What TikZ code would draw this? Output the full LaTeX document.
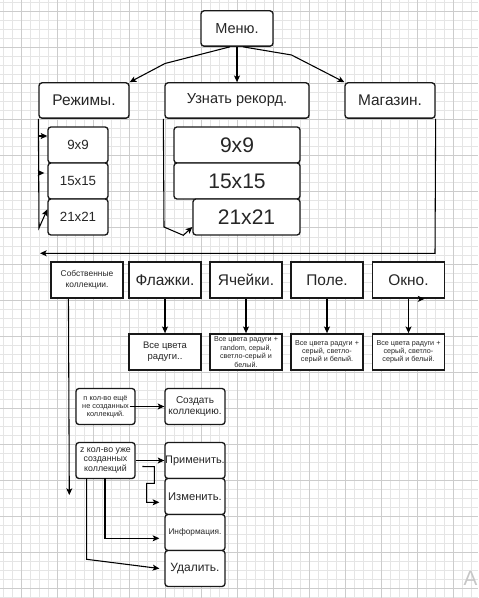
\documentclass[tikz,border=0pt]{standalone}
\usepackage{fontspec}
\setmainfont{Liberation Sans}
\usetikzlibrary{arrows.meta,calc}

\newcommand\fs[2]{\fontsize{#1}{#2}\selectfont}

\tikzset{
  gridminor/.style={draw=black!10, line width=0.75pt},
  gridmajor/.style={draw=black!20, line width=0.75pt},
  rbox/.style={draw=black!90, line width=1pt, rounded corners=2.25pt, fill=white,
    inner sep=0pt, align=center, text=black!85},
  sbox/.style={draw=black!90, line width=1.3pt, fill=white,
    inner sep=0pt, align=center, text=black!85},
  link/.style={draw=black, line width=0.8pt,
    -{Stealth[length=5pt,width=4.5pt,inset=1.2pt]}},
}

\begin{document}
\begin{tikzpicture}[x=0.75pt,y=-0.75pt]
  \useasboundingbox (0,0) rectangle (478,598);
  \fill[white] (0,0) rectangle (478,598);

  % background grid
  \foreach \i in {0,...,52} \draw[gridminor] ({3+9*\i},0) -- ({3+9*\i},598);
  \foreach \i in {0,...,66} \draw[gridminor] (0,{3+9*\i}) -- (478,{3+9*\i});
  \foreach \i in {0,...,12} \draw[gridmajor] ({21+36*\i},0) -- ({21+36*\i},598);
  \foreach \i in {0,...,16} \draw[gridmajor] (0,{12+36*\i}) -- (478,{12+36*\i});

  % main menu
  \node[rbox, minimum width=54pt, minimum height=26.5pt, font=\fs{10.9}{13}] (menu) at (237,28.5) {Меню.};
  \node[rbox, minimum width=67.5pt, minimum height=26.5pt, font=\fs{11.6}{14}] (modes) at (84,100.5) {Режимы.};
  \node[rbox, minimum width=108pt, minimum height=26.5pt, font=\fs{10.9}{13}] (record) at (237,100.5) {Узнать рекорд.};
  \node[rbox, minimum width=67.5pt, minimum height=26.5pt, font=\fs{11.6}{14}] (shop) at (390,100.5) {Магазин.};

  % game modes
  \node[rbox, minimum width=45pt, minimum height=27pt, font=\fs{10}{12}] (s9) at (78,145) {9x9};
  \node[rbox, minimum width=45pt, minimum height=27pt, font=\fs{10}{12}] (s15) at (78,181) {15x15};
  \node[rbox, minimum width=45pt, minimum height=27pt, font=\fs{10}{12}] (s21) at (78,217) {21x21};

  % records
  \node[rbox, minimum width=94.5pt, minimum height=27pt, font=\fs{15.8}{18}] (b9) at (237,145) {9x9};
  \node[rbox, minimum width=94.5pt, minimum height=27pt, font=\fs{15.8}{18}] (b15) at (237,181) {15x15};
  \node[rbox, minimum width=80.25pt, minimum height=27pt, font=\fs{15.8}{18}] (b21) at (246.5,217) {21x21};

  % shop sections
  \node[sbox, minimum width=54pt, minimum height=27pt, font=\fs{6.3}{8}] (own) at (87,280) {Собственные\\коллекции.};
  \node[sbox, minimum width=54pt, minimum height=27pt, font=\fs{11.6}{14}] (flags) at (165,280) {Флажки.};
  \node[sbox, minimum width=54pt, minimum height=27pt, font=\fs{11.6}{14}] (cells) at (246,280) {Ячейки.};
  \node[sbox, minimum width=54pt, minimum height=27pt, font=\fs{11.6}{14}] (field) at (327,280) {Поле.};
  \node[sbox, minimum width=54pt, minimum height=27pt, font=\fs{11.6}{14}] (window) at (408.5,280) {Окно.};

  % colour sets
  \node[sbox, minimum width=54pt, minimum height=27pt, font=\fs{7.1}{8.3}] (c1) at (165,352) {Все цвета\\радуги..};
  \node[sbox, minimum width=54pt, minimum height=27pt, font=\fs{5.4}{6.5}] (c2) at (246,352) {Все цвета радуги +\\random, серый,\\светло-серый и\\белый.};
  \node[sbox, minimum width=54pt, minimum height=27pt, font=\fs{5.4}{6.2}] (c3) at (327,352) {Все цвета радуги +\\серый, светло-\\серый и белый.};
  \node[sbox, minimum width=54pt, minimum height=27pt, font=\fs{5.4}{6.2}] (c4) at (408.5,352) {Все цвета радуги +\\серый, светло-\\серый и белый.};

  % own collections
  \node[rbox, minimum width=44.25pt, minimum height=27pt, font=\fs{5.5}{6.2}] (nnot) at (105.5,406.5) {n кол-во ещё\\не созданных\\коллекций.};
  \node[rbox, minimum width=45pt, minimum height=27pt, font=\fs{7.5}{8}] (create) at (195,406.5) {Создать\\коллекцию.};
  \node[rbox, minimum width=44.25pt, minimum height=27pt, font=\fs{6.6}{7.3}] (zc) at (105.5,460.5) {z кол-во уже\\созданных\\коллекций};
  \node[rbox, minimum width=45pt, minimum height=27pt, font=\fs{8.2}{10}] (apply) at (195,460.5) {Применить.};
  \node[rbox, minimum width=45pt, minimum height=27pt, font=\fs{8.4}{10}] (edit) at (195,496.5) {Изменить.};
  \node[rbox, minimum width=45pt, minimum height=27pt, font=\fs{6.2}{8}] (info) at (195,532.5) {Информация.};
  \node[rbox, minimum width=45pt, minimum height=27pt, font=\fs{9}{11}] (del) at (195,568.5) {Удалить.};

  \node[text=black!22, font=\fs{15.5}{18}] (mark) at (470.5,578) {A};

  % menu branches
  \draw[link] ($(menu.south)+(-7,0)$) -- (165,63.5) -- (modes.north east);
  \draw[link] (menu.south) -- (record.north);
  \draw[link] ($(menu.south)+(6,0)$) -- (291.5,55) -- (shop.north west);

  % modes column
  \draw[link] (modes.south west) -- (39,228) -- ($(s21.north west)+(0,11)$);
  \draw[link] (39,136) -- ($(s9.west)+(0,-9)$);
  \draw[link] (39,173) -- ($(s15.west)+(-3,-8)$);

  % records column
  \draw[link] ($(record.south west)+(-1,0)$) -- (164,227) -- (183.3,235.3) -- ($(b21.west)+(0,10)$);

  % shop loop
  \coordinate (loopend) at (40,253.3);
  \draw[link] (shop.south east) -- (435,253.3) -- (loopend);
  \draw[link] ($(window.south)+(10,0)$) -- ($(window.south)+(16,0)$);

  % sections to colour sets
  \draw[link] (flags.south) -- (c1.north);
  \draw[link] (cells.south) -- (c2.north);
  \draw[link] (field.south) -- (c3.north);
  \draw[link] (window.south) -- (c4.north);

  % own collections
  \coordinate (ownend) at (69.3,495);
  \draw[link] ($(own.south west)+(18.3,0)$) -- (ownend);
  \draw[link] ($(nnot.east)+(-6,0)$) -- (create.west);
  \draw[link] (zc.east) -- (apply.west);
  \draw[link] ($(zc.east)+(6.7,6)$) -- (154.3,466.7) -- (154.3,483.3) -- (146.7,483.3) -- (146.7,502.3) -- ($(edit.west)+(-5,5.8)$);
  \draw[link] (105,478.3) -- (105,538.3) -- ($(info.west)+(-5,5.8)$);
  \draw[link] (86.7,478.3) -- (86.7,559.3) -- ($(del.west)+(-5,0)$);
\end{tikzpicture}
\end{document}
